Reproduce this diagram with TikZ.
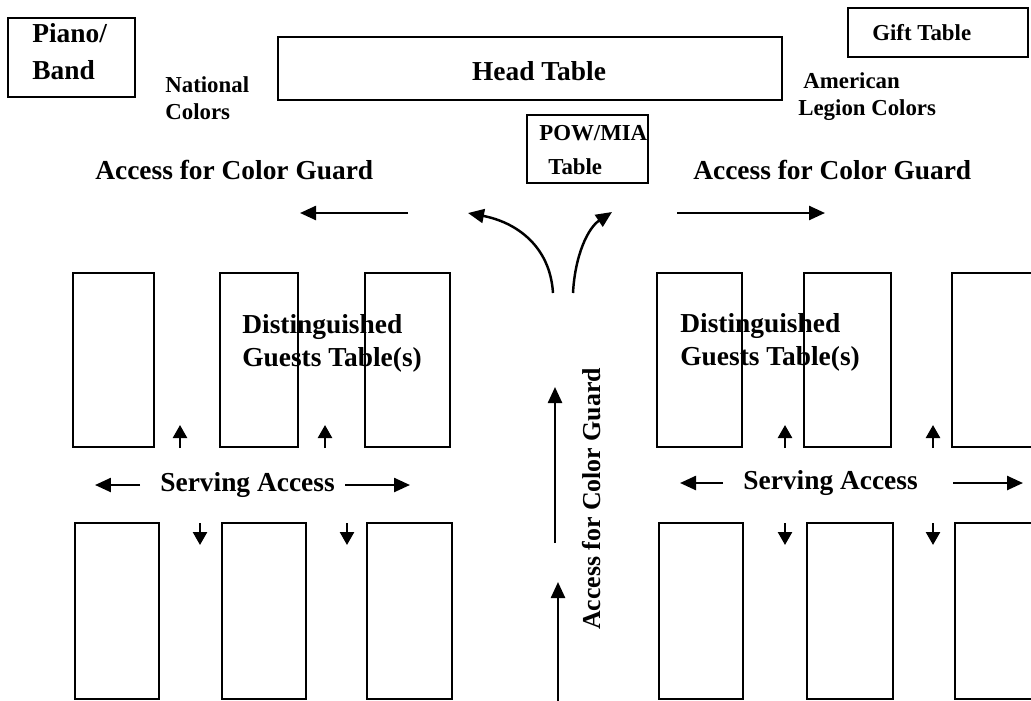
\documentclass[tikz,border=0pt]{standalone}
\usepackage{fontspec}
\setmainfont{Liberation Serif}
\usetikzlibrary{arrows.meta,fit}

\tikzset{
  tbl/.style={draw, line width=1.5pt, inner sep=0pt},
  txt/.style={font=\bfseries\fontsize{15.6}{18.7}\selectfont, inner sep=0pt, align=left, anchor=west},
  smalltxt/.style={txt, font=\bfseries\fontsize{13}{15.3}\selectfont},
  flow/.style={line width=1.4pt, -{Triangle[length=0.32cm,width=0.28cm]}},
  tick/.style={line width=1.4pt, -{Triangle[length=0.26cm,width=0.28cm]}}
}

\begin{document}
\begin{tikzpicture}[x=0.02cm, y=-0.02cm]
  \useasboundingbox (0,0) rectangle (1031,700);
  % front of the room
  \node[tbl, fit={(8,18) (135,97)}] (piano) {};
  \node[tbl, fit={(278,37) (782,100)}] (head) {};
  \node[tbl, fit={(848,8) (1028,57)}] (gift) {};
  \node[tbl, fit={(527,115) (648,183)}] (powmia) {};
  % guest tables
  \foreach \n/\xa/\xb in {t1/73/154, t2/220/298, t3/365/450, t4/657/742, t5/804/891, t6/952/1045}
    \node[tbl, fit={(\xa,273) (\xb,447)}] (\n) {};
  \foreach \n/\xa/\xb in {b1/75/159, b2/222/306, b3/367/452, b4/659/743, b5/807/893, b6/955/1045}
    \node[tbl, fit={(\xa,523) (\xb,699)}] (\n) {};
  % labels
  \node[txt, font=\bfseries\fontsize{15.6}{21}\selectfont] (pianotxt) at (32,52) {Piano/\\Band};
  \node[txt, anchor=center] (headtxt) at (539,71) {Head Table};
  \node[smalltxt] (gifttxt) at (872,33) {Gift Table};
  \node[smalltxt] (natcol) at (165,98.5) {National\\Colors};
  \node[smalltxt] (legcol) at (798,96.5) {\hspace*{0.1cm}American\\Legion Colors};
  \node[smalltxt, font=\bfseries\fontsize{13}{19.3}\selectfont] (powtxt) at (539,150) {POW/MIA\\\hspace*{0.18cm}Table};
  \node[txt] (guardl) at (95,170) {Access for Color Guard};
  \node[txt] (guardr) at (693,170) {Access for Color Guard};
  \node[txt] (distl) at (242,343.5) {Distinguished\\Guests Table(s)};
  \node[txt] (distr) at (680,342.5) {Distinguished\\Guests Table(s)};
  \node[txt] (servl) at (160,485) {Serving Access};
  \node[txt] (servr) at (743,483) {Serving Access};
  \node[txt, font=\bfseries\fontsize{14.7}{17}\selectfont, anchor=center, rotate=90] (guardc) at (592,499) {Access for Color Guard};
  % color guard routes
  \coordinate (gl1) at (408,213); \coordinate (gl2) at (300,213);
  \coordinate (gr1) at (677,213); \coordinate (gr2) at (825,213);
  \draw[flow] (gl1) -- (gl2);
  \draw[flow] (gr1) -- (gr2);
  \coordinate (cl0) at (553,293); \coordinate (cl1) at (468,213);
  \coordinate (cr0) at (573,293); \coordinate (cr1) at (612,212);
  \draw[flow] (cl0) .. controls (550,245) and (515,222) .. (cl1);
  \draw[flow] (cr0) .. controls (575,255) and (588,228) .. (cr1);
  \coordinate (vu0) at (555,543); \coordinate (vu1) at (555,387);
  \coordinate (vd0) at (558,705); \coordinate (vd1) at (558,582);
  \draw[flow] (vu0) -- (vu1);
  \draw[flow] (vd0) -- (vd1);
  % serving access
  \coordinate (sl1) at (140,485); \coordinate (sl2) at (95,485);
  \coordinate (sl3) at (345,485); \coordinate (sl4) at (410,485);
  \coordinate (sr1) at (723,483); \coordinate (sr2) at (680,483);
  \coordinate (sr3) at (953,483); \coordinate (sr4) at (1023,483);
  \draw[flow] (sl1) -- (sl2);
  \draw[flow] (sl3) -- (sl4);
  \draw[flow] (sr1) -- (sr2);
  \draw[flow] (sr3) -- (sr4);
  \foreach \x [count=\i] in {180,325,785,933} {
    \coordinate (up\i a) at (\x,448); \coordinate (up\i b) at (\x,425);
    \draw[tick] (up\i a) -- (up\i b);
  }
  \foreach \x [count=\i] in {200,347,785,933} {
    \coordinate (dn\i a) at (\x,523); \coordinate (dn\i b) at (\x,545);
    \draw[tick] (dn\i a) -- (dn\i b);
  }
\end{tikzpicture}
\end{document}
